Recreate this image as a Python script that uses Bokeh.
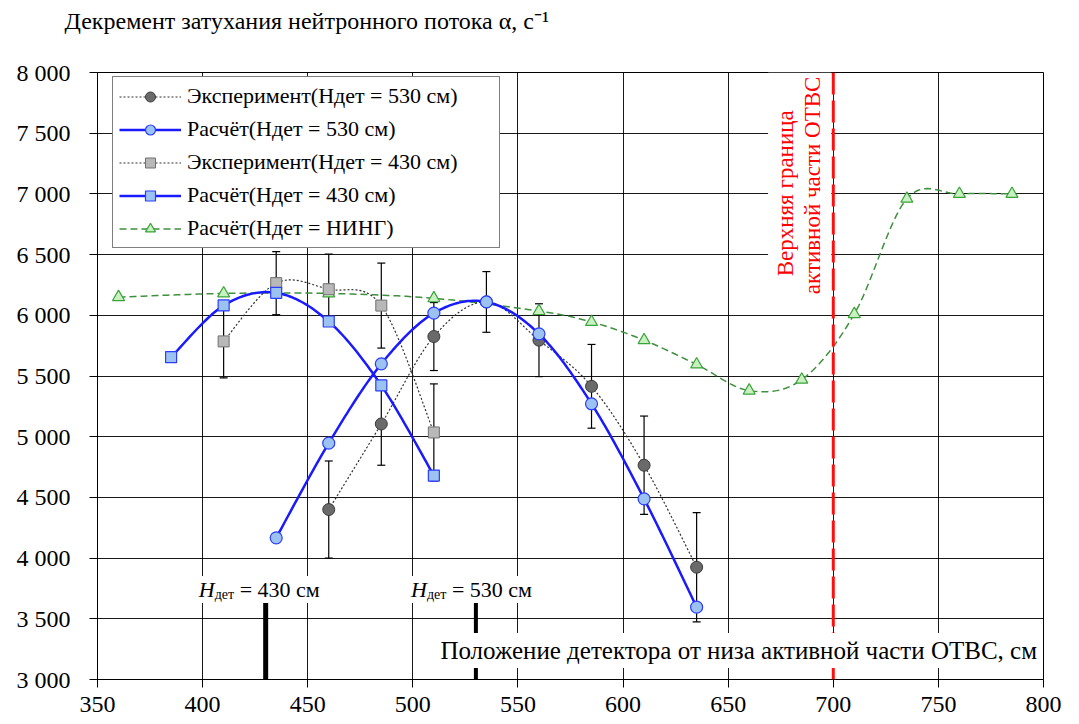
import numpy as np
from bokeh.plotting import figure
from bokeh.models import (Range1d, FixedTicker, Span, Label, BoxAnnotation, Whisker,
                          TeeHead, ColumnDataSource, Legend, LegendItem, Title)
from bokeh.embed import file_html
from bokeh.resources import INLINE

# ---------------- data ----------------
exp530_x = [460, 485, 510, 535, 560, 585, 610, 635]
exp530_y = [4400, 5105, 5825, 6110, 5795, 5415, 4765, 3925]
exp530_err = [400, 340, 280, 250, 300, 345, 405, 450]

calc530_x = [435, 460, 485, 510, 535, 560, 585, 610, 635]
calc530_y = [4167, 4947, 5600, 6018, 6110, 5847, 5271, 4488, 3596]

exp430_x = [410, 435, 460, 485, 510]
exp430_y = [5785, 6265, 6215, 6080, 5035]
exp430_err = [300, 260, 290, 350, 400]

calc430_x = [385, 410, 435, 460, 485, 510]
calc430_y = [5655, 6081, 6185, 5949, 5422, 4680]

calcING_x = [360, 410, 460, 510, 560, 585, 610, 635, 660, 685, 710, 735, 760, 785]
calcING_y = [6150, 6180, 6180, 6140, 6035, 5945, 5795, 5595, 5380, 5470, 6010, 6960, 7000, 7000]

x_ticks = list(range(350, 801, 50))
y_ticks = list(range(3000, 8001, 500))
y_tick_labels = {v: f"{v // 1000} {v % 1000:03d}" for v in y_ticks}

detector_x = [430, 530]
active_top = 700

FONT = "Liberation Serif"


def smooth(xs, ys, n=24):
    """Excel-like smoothed line (Catmull-Rom Bezier) through the data points."""
    P = np.column_stack([xs, ys]).astype(float)
    pts = [P[0]] + list(P) + [P[-1]]
    out = []
    t = np.linspace(0, 1, n)[:, None]
    for i in range(1, len(pts) - 2):
        p0, p1, p2, p3 = pts[i - 1], pts[i], pts[i + 1], pts[i + 2]
        c1 = p1 + (p2 - p0) / 6.0
        c2 = p2 - (p3 - p1) / 6.0
        seg = (1 - t) ** 3 * p1 + 3 * (1 - t) ** 2 * t * c1 + 3 * (1 - t) * t ** 2 * c2 + t ** 3 * p2
        out.append(seg if i == 1 else seg[1:])
    arr = np.vstack(out)
    return arr[:, 0], arr[:, 1]


p = figure(width=1079, height=724, output_backend="svg", toolbar_location=None, title=None,
           x_range=Range1d(350, 800), y_range=Range1d(3000, 8000),
           min_border_left=97, min_border_right=36, min_border_top=72, min_border_bottom=45)
p.background_fill_color = "white"
p.border_fill_color = "white"
p.outline_line_color = "black"
p.outline_line_width = 1

# spacer panel next to the frame, then the y-axis caption further up
p.add_layout(Title(text=" ", text_font_size="33px", standoff=0), "above")
p.add_layout(Title(text="Декремент затухания нейтронного потока α, с⁻¹", align="left",
                   offset=-33, standoff=0, text_font=FONT, text_font_size="24px",
                   text_font_style="normal", text_color="black"), "above")

p.xaxis.ticker = FixedTicker(ticks=x_ticks)
p.yaxis.ticker = FixedTicker(ticks=y_ticks)
p.yaxis.major_label_overrides = y_tick_labels
for ax in (p.xaxis, p.yaxis):
    ax.major_label_text_font = FONT
    ax.major_label_text_font_size = "24px"
    ax.major_label_text_color = "black"
    ax.axis_line_color = "black"
    ax.major_tick_line_color = "black"
    ax.major_tick_out = 8
    ax.major_tick_in = 0
    ax.minor_tick_line_color = None
p.xaxis.major_label_standoff = 9
p.yaxis.major_label_standoff = 19

for g in (p.xgrid, p.ygrid):
    g.grid_line_color = "black"
    g.grid_line_width = 1
    g.grid_line_alpha = 0.9
p.xgrid.ticker = FixedTicker(ticks=x_ticks)
p.ygrid.ticker = FixedTicker(ticks=y_ticks)

# error bars
src530 = ColumnDataSource(dict(x=exp530_x,
                               lo=[y - e for y, e in zip(exp530_y, exp530_err)],
                               hi=[y + e for y, e in zip(exp530_y, exp530_err)]))
src430 = ColumnDataSource(dict(x=exp430_x,
                               lo=[y - e for y, e in zip(exp430_y, exp430_err)],
                               hi=[y + e for y, e in zip(exp430_y, exp430_err)]))
for s in (src430, src530):
    w = Whisker(base="x", lower="lo", upper="hi", source=s, line_color="black", line_width=1.2,
                upper_head=TeeHead(size=8, line_color="black", line_width=1.2),
                lower_head=TeeHead(size=8, line_color="black", line_width=1.2))
    p.add_layout(w)

# green calculation (H_ING)
gx, gy = smooth(calcING_x, calcING_y)
l_ing = p.line(gx, gy, line_color="#3f8f3f", line_width=1.5, line_dash="7 4")
s_ing = p.scatter(calcING_x, calcING_y, marker="triangle", size=12,
                  fill_color="#c9f0c0", line_color="#3aa33a", line_width=1.2)

# experiment 430
ex, ey = smooth(exp430_x, exp430_y)
l_e430 = p.line(ex, ey, line_color="#303030", line_width=1.2, line_dash="2 2")
s_e430 = p.scatter(exp430_x, exp430_y, marker="square", size=11,
                   fill_color="#b8b8b8", line_color="#707070", line_width=1)

# experiment 530
ex, ey = smooth(exp530_x, exp530_y)
l_e530 = p.line(ex, ey, line_color="#303030", line_width=1.2, line_dash="2 2")
s_e530 = p.scatter(exp530_x, exp530_y, marker="circle", size=12,
                   fill_color="#6a6a6a", line_color="#3a3a3a", line_width=1)

# calc 430
cx, cy = smooth(calc430_x, calc430_y)
l_c430 = p.line(cx, cy, line_color="#1a1aff", line_width=2.5)
s_c430 = p.scatter(calc430_x, calc430_y, marker="square", size=11,
                   fill_color="#9cc2f2", line_color="#2a3cff", line_width=1.2)

# calc 530
cx, cy = smooth(calc530_x, calc530_y)
l_c530 = p.line(cx, cy, line_color="#1a1aff", line_width=2.5)
s_c530 = p.scatter(calc530_x, calc530_y, marker="circle", size=12,
                   fill_color="#9cc2f2", line_color="#2a3cff", line_width=1.2)

# detector position markers
p.segment(x0=detector_x, y0=[3650, 3650], x1=detector_x, y1=[3000, 3000],
          line_color="black", line_width=[5, 4])

# upper boundary of active part
p.add_layout(Span(location=active_top, dimension="height", line_color="#ff1010",
                  line_width=3, line_dash="22 6"))
p.add_layout(BoxAnnotation(left=669, right=699, bottom=6120, top=8000,
                           fill_color="white", fill_alpha=1, line_alpha=0))
p.add_layout(Label(x=677.5, y=7005, text="Верхняя граница", angle=np.pi / 2,
                   text_align="center", text_baseline="middle", text_color="#ff0000",
                   text_font=FONT, text_font_size="23px"))
p.add_layout(Label(x=690.3, y=7070, text="активной части ОТВС", angle=np.pi / 2,
                   text_align="center", text_baseline="middle", text_color="#ff0000",
                   text_font=FONT, text_font_size="23px"))

# detector labels
for xd, xo_h, xo_eq, txt in ((430, -50, -27, "= 430 см"), (530, -48, -25, "= 530 см")):
    p.add_layout(Label(x=xd, y=3741, x_offset=xo_h, text="H", text_align="right",
                       text_baseline="alphabetic", text_font=FONT, text_font_style="italic",
                       text_font_size="22px", text_color="black",
                       background_fill_color="white", padding=1))
    p.add_layout(Label(x=xd, y=3700, x_offset=xo_h - 2, text="дет", text_align="left",
                       text_baseline="alphabetic", text_font=FONT,
                       text_font_size="14px", text_color="black",
                       background_fill_color="white", padding=1))
    p.add_layout(Label(x=xd, y=3741, x_offset=xo_eq, text=txt, text_align="left",
                       text_baseline="alphabetic", text_font=FONT,
                       text_font_size="22px", text_color="black",
                       background_fill_color="white", padding=1))

# x-axis caption inside plot
p.add_layout(Label(x=798.8, y=3239, text="Положение детектора от низа активной части ОТВС, см",
                   text_align="right", text_baseline="middle", text_font=FONT,
                   text_font_size="25px", text_color="black",
                   background_fill_color="white", padding=4))

legend = Legend(items=[
    LegendItem(label="Эксперимент(Hдет = 530 см)", renderers=[l_e530, s_e530]),
    LegendItem(label="Расчёт(Hдет = 530 см)", renderers=[l_c530, s_c530]),
    LegendItem(label="Эксперимент(Hдет = 430 см)", renderers=[l_e430, s_e430]),
    LegendItem(label="Расчёт(Hдет = 430 см)", renderers=[l_c430, s_c430]),
    LegendItem(label="Расчёт(Hдет = HИНГ)", renderers=[l_ing, s_ing]),
], location=(15, 431), margin=0, padding=6, spacing=7, glyph_width=62, glyph_height=25,
    label_height=25, label_width=306, label_standoff=6, label_text_font=FONT,
    label_text_font_size="22px", label_text_color="black", border_line_color="black",
    border_line_width=1, background_fill_color="white", background_fill_alpha=1)
p.add_layout(legend)

open("out.html", "w").write(file_html(p, INLINE))
